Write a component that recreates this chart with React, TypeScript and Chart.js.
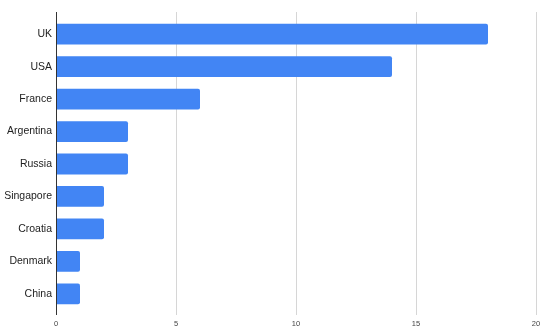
import React, { useEffect, useRef } from "react";
import { Chart, registerables } from "chart.js";

Chart.register(...registerables);

const categories = ["UK", "USA", "France", "Argentina", "Russia", "Singapore", "Croatia", "Denmark", "China"];
const values = [18, 14, 6, 3, 3, 2, 2, 1, 1];
const xTicks = [0, 5, 10, 15, 20];

const gridPlugin = {
  id: "customGrid",
  beforeDatasetsDraw(chart: any) {
    const { ctx } = chart;
    const xs = chart.scales.x;
    ctx.save();
    ctx.strokeStyle = "#d6d6d6";
    ctx.lineWidth = 1;
    xTicks.forEach((t) => {
      if (t === 0) return;
      const px = Math.round(xs.getPixelForValue(t)) + 0.5;
      ctx.beginPath();
      ctx.moveTo(px, 12);
      ctx.lineTo(px, 315);
      ctx.stroke();
    });
    ctx.restore();
  },
  afterDatasetsDraw(chart: any) {
    const { ctx } = chart;
    const xs = chart.scales.x;
    ctx.save();
    ctx.strokeStyle = "#333333";
    ctx.lineWidth = 1;
    const px = Math.round(xs.getPixelForValue(0)) + 0.5;
    ctx.beginPath();
    ctx.moveTo(px, 12);
    ctx.lineTo(px, 315);
    ctx.stroke();
    ctx.restore();
  },
};

export default function App() {
  const ref = useRef<HTMLCanvasElement | null>(null);
  useEffect(() => {
    if (!ref.current) return;
    const chart = new Chart(ref.current, {
      type: "bar",
      data: {
        labels: categories,
        datasets: [
          {
            data: values,
            backgroundColor: "#4285F4",
            borderRadius: 2,
            borderSkipped: "start",
            barPercentage: 0.64,
            categoryPercentage: 1,
          },
        ],
      },
      options: {
        indexAxis: "y",
        animation: false,
        responsive: false,
        layout: { padding: { top: 18, right: 14, left: 0, bottom: 0 } },
        plugins: { legend: { display: false }, tooltip: { enabled: false } },
        scales: {
          x: {
            min: 0,
            max: 20,
            afterBuildTicks: (s: any) => {
              s.ticks = xTicks.map((v) => ({ value: v }));
            },
            afterFit: (s: any) => {
              s.height = 26;
            },
            grid: { display: false, drawTicks: false },
            border: { display: false },
            ticks: {
              padding: 9,
              color: "#444444",
              font: { family: "'Liberation Sans', Arial, sans-serif", size: 7.5 },
            },
          },
          y: {
            afterFit: (s: any) => {
              s.width = 56;
            },
            grid: { display: false, drawTicks: false },
            border: { display: false },
            ticks: {
              padding: 4,
              color: "#222222",
              font: { family: "'Liberation Sans', Arial, sans-serif", size: 10.5 },
            },
          },
        },
      },
      plugins: [gridPlugin],
    });
    return () => chart.destroy();
  }, []);
  return (
    <div style={{ position: "fixed", left: 0, top: 0, width: 550, height: 336, background: "#fff" }}>
      <canvas ref={ref} width={550} height={336} style={{ width: 550, height: 336 }} />
    </div>
  );
}
